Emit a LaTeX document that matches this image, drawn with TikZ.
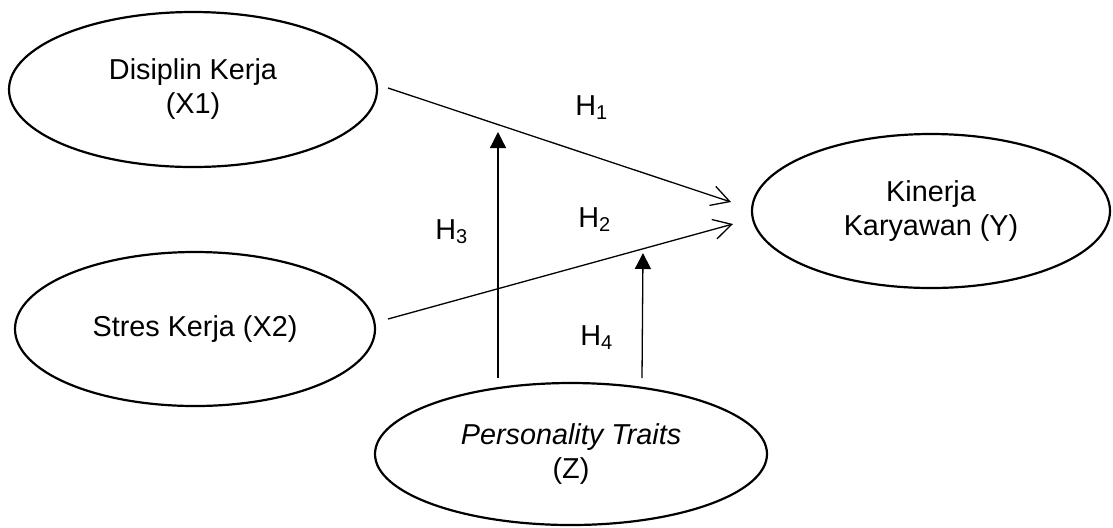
\documentclass[tikz,border=0pt]{standalone}
\usepackage{fontspec}
\setmainfont{Liberation Sans}
\usetikzlibrary{shapes.geometric,arrows.meta}
\begin{document}
\begin{tikzpicture}[x=0.5pt,y=-0.5pt,
  var/.style={draw, ellipse, line width=1.1pt, inner sep=0pt, align=center, font=\fontsize{14.4}{17}\selectfont},
  effect/.style={line width=0.65pt, -{Straight Barb[length=9pt,width=10pt,line width=0.65pt]}},
  moder/.style={line width=0.65pt, -{Triangle[length=8pt,width=8pt]}},
  hyp/.style={anchor=base west, inner sep=0pt, font=\fontsize{14.4}{17}\selectfont}]
\useasboundingbox (0,0) rectangle (1113,527);
\node[var, minimum width=184pt, minimum height=77.5pt] (X1) at (193,89.5) {Disiplin Kerja\\(X1)};
\node[var, minimum width=180pt, minimum height=77pt] (X2) at (195,329) {Stres Kerja (X2)};
\node[var, minimum width=179pt, minimum height=77pt] (Y) at (931,211) {Kinerja\\Karyawan (Y)};
\node[var, minimum width=196pt, minimum height=71pt] (Z) at (571,454) {\itshape Personality Traits\\(Z)};
% connector end points
\coordinate (a1s) at (388,88);
\coordinate (a1e) at (731,202);
\coordinate (a2s) at (388,319);
\coordinate (a2e) at (733,224);
\coordinate (m3s) at (498,378);
\coordinate (m3e) at (498,132);
\coordinate (m4s) at (642,378);
\coordinate (m4e) at (643,253);
\draw[effect] (a1s) -- (a1e);
\draw[effect] (a2s) -- (a2e);
\draw[moder] (m3s) -- (m3e);
\draw[moder] (m4s) -- (m4e);
\node[hyp] (H1) at (575,115) {H\textsubscript{1}};
\node[hyp] (H2) at (578,227) {H\textsubscript{2}};
\node[hyp] (H3) at (435,239) {H\textsubscript{3}};
\node[hyp] (H4) at (580,345) {H\textsubscript{4}};
\end{tikzpicture}
\end{document}
